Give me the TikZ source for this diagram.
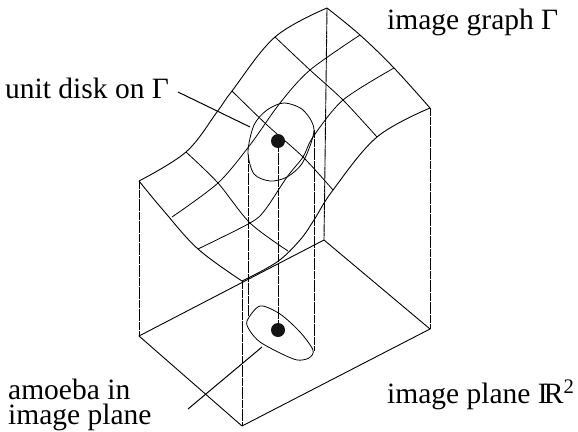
\documentclass[tikz,border=0pt]{standalone}
\usepackage{fontspec}
\setmainfont{Liberation Serif}
\tikzset{
	edgeline/.style={line width=0.9pt, line join=round},
	gridline/.style={line width=0.8pt},
	dropline/.style={line width=0.9pt, dash pattern=on 4pt off 0.4pt},
	leaderline/.style={line width=1pt},
	footpoint/.style={circle, fill=black!92, inner sep=0pt, minimum size=14pt},
	caption/.style={font=\fontsize{29.5}{25}\selectfont, inner sep=0pt, anchor=base west, align=left}
}
\begin{document}
\begin{tikzpicture}[x=1pt,y=-1pt]
	\useasboundingbox (0,0) rectangle (578,431);
	% corners of the surface and of the base
	\coordinate (surfleft) at (139,181);
	\coordinate (surfback) at (327,8);
	\coordinate (surfright) at (430,108);
	\coordinate (surffront) at (242,281);
	\coordinate (baseleft) at (139,336);
	\coordinate (baseback) at (324,240);
	\coordinate (baseright) at (430,329);
	\coordinate (basefront) at (242,426);
	% box
	\draw[edgeline] (baseleft) -- (basefront) -- (baseright) -- (baseback) -- cycle;
	\draw[dropline] (surfleft) -- (baseleft);
	\draw[dropline] (surffront) -- (basefront);
	\draw[dropline] (surfright) -- (baseright);
	\draw[dropline] (surfback) -- (baseback);
	% surface
	\draw[edgeline] plot[smooth,tension=0.6] coordinates {(139,181) (186,152) (217,112) (232,91) (275,37) (327,8)};
	\draw[edgeline] plot[smooth,tension=0.6] coordinates {(327,8) (360,35) (394,68) (430,108)};
	\draw[edgeline] plot[smooth,tension=0.6] coordinates {(242,281) (277,262) (300,240) (314,220) (333,190) (377,137) (430,108)};
	\draw[edgeline] plot[smooth,tension=0.6] coordinates {(139,181) (163,210) (198,249) (242,281)};
	% grid on the surface
	\draw[gridline] plot[smooth] coordinates {(186,152) (218,183) (250,223) (288,251)};
	\draw[gridline] plot[smooth] coordinates {(232,91) (267,125) (303,157) (333,190)};
	\draw[gridline] plot[smooth] coordinates {(275,37) (310,70) (343,100) (377,137)};
	\draw[gridline] plot[smooth] coordinates {(172,217) (218,183) (250,145) (280,103) (310,70) (360,35)};
	\draw[gridline] plot[smooth] coordinates {(198,249) (250,223) (265,210) (287,177) (303,157) (313,137) (343,100) (394,68)};
	% disk and amoeba
	\draw[gridline] plot[smooth cycle] coordinates {(248,152) (254,125) (267,110) (284,103) (303,110) (314,130) (303,162) (287,177) (270,181) (254,174)};
	\draw[gridline] plot[smooth cycle] coordinates {(247,321) (260,306) (280,314) (300,332) (313,350) (309,358) (297,360) (280,353) (260,342) (250,331)};
	\node[footpoint] (diskpoint) at (278,141) {};
	\node[footpoint] (amoebapoint) at (278,330) {};
	\draw[dropline] (diskpoint) -- (amoebapoint);
	\draw[dropline] (248,155) -- (248,316);
	\draw[dropline] (314,130) -- (314,351);
	% labels
	\node[caption] (graphlabel) at (387,29) {image graph Γ};
	\node[caption] (disklabel) at (5,98) {unit disk on Γ};
	\node[caption] (planelabel) at (387,403) {image plane I\kern-0.13em R\textsuperscript{2}};
	\node[caption] (amoebalabel) at (8,424) {amoeba in\\image plane};
	\coordinate (diskend) at (250,127);
	\coordinate (diskstart) at (178,92);
	\coordinate (amoebaend) at (262,347);
	\coordinate (amoebastart) at (188,409);
	\draw[leaderline] (diskstart) -- (diskend);
	\draw[leaderline] (amoebastart) -- (amoebaend);
\end{tikzpicture}
\end{document}
